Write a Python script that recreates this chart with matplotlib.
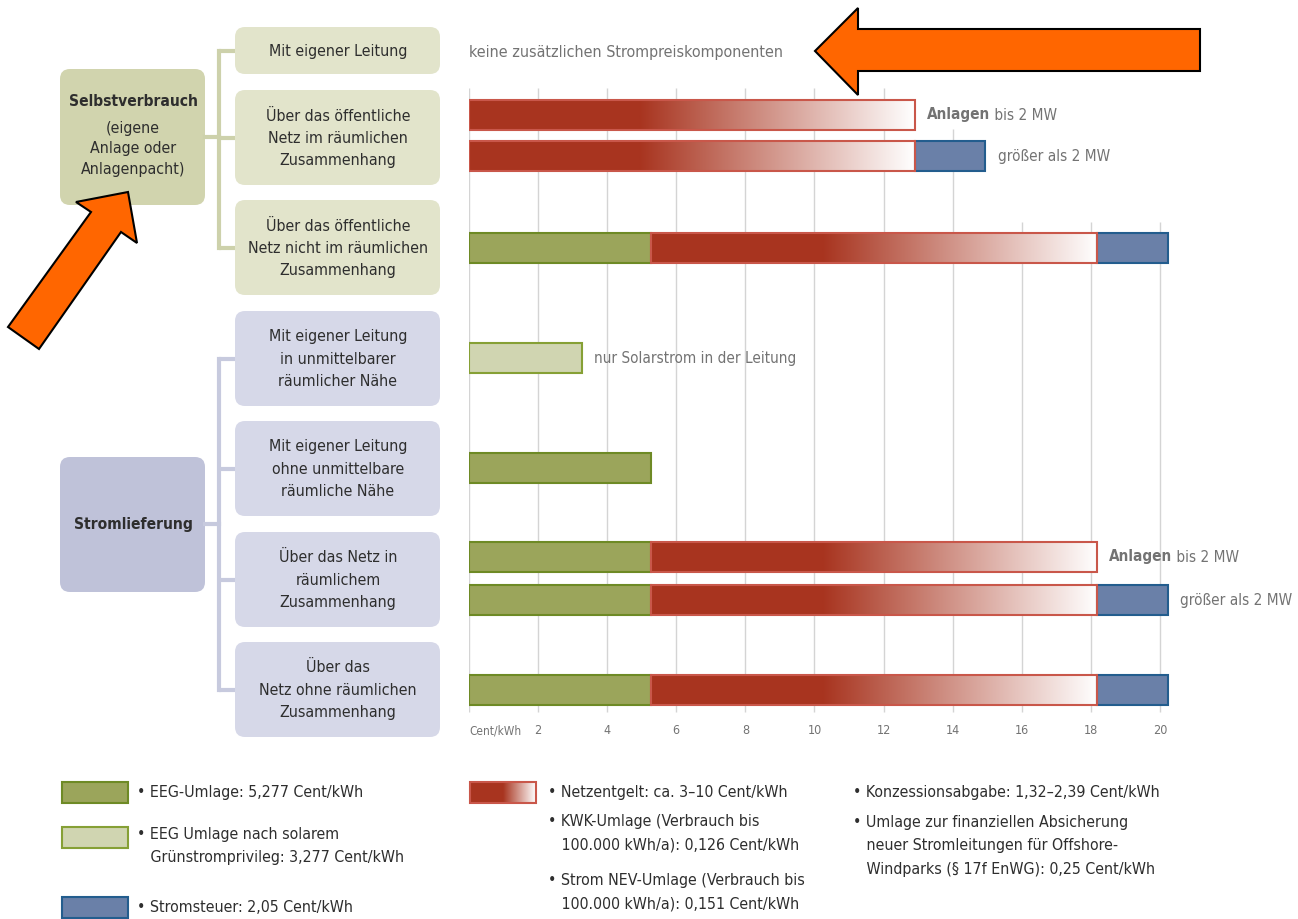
import numpy as np
import matplotlib
matplotlib.use('Agg')
from matplotlib import pyplot as plt
from matplotlib.patches import FancyBboxPatch, Polygon, Rectangle
from matplotlib.colors import LinearSegmentedColormap

plt.rcParams['font.family'] = ['DejaVu Sans']
plt.rcParams['font.stretch'] = 'condensed'

# DATA (Cent/kWh)
eeg_part = [0, 0, 5.277, 0, 5.277, 5.277, 5.277, 5.277]
solar_part = [0, 0, 0, 3.277, 0, 0, 0, 0]
netz_part = [12.9, 12.9, 12.9, 0, 0, 12.9, 12.9, 12.9]
netz_fest = 4.93          # part of the grid fee shown in solid red
steuer_part = [0, 2.05, 2.05, 0, 0, 0, 2.05, 2.05]
notes = ['Anlagen| bis 2 MW', 'größer als 2 MW', '', 'nur Solarstrom in der Leitung', '',
         'Anlagen| bis 2 MW', 'größer als 2 MW', '']
ticks = [0, 2, 4, 6, 8, 10, 12, 14, 16, 18, 20]

sv_main = 'Selbstverbrauch'
sv_sub = ['(eigene', 'Anlage oder', 'Anlagenpacht)']
sv_boxes = ['Mit eigener Leitung',
            'Über das öffentliche\nNetz im räumlichen\nZusammenhang',
            'Über das öffentliche\nNetz nicht im räumlichen\nZusammenhang']
sl_main = 'Stromlieferung'
sl_boxes = ['Mit eigener Leitung\nin unmittelbarer\nräumlicher Nähe',
            'Mit eigener Leitung\nohne unmittelbare\nräumliche Nähe',
            'Über das Netz in\nräumlichem\nZusammenhang',
            'Über das\nNetz ohne räumlichen\nZusammenhang']

legend_left = ['• EEG-Umlage: 5,277 Cent/kWh',
               '• EEG Umlage nach solarem\n   Grünstromprivileg: 3,277 Cent/kWh',
               '• Stromsteuer: 2,05 Cent/kWh']
legend_mid = ['• Netzentgelt: ca. 3–10 Cent/kWh',
              '• KWK-Umlage (Verbrauch bis\n   100.000 kWh/a): 0,126 Cent/kWh',
              '• Strom NEV-Umlage (Verbrauch bis\n   100.000 kWh/a): 0,151 Cent/kWh']
legend_right = ['• Konzessionsabgabe: 1,32–2,39 Cent/kWh',
                '• Umlage zur finanziellen Absicherung\n   neuer Stromleitungen für Offshore-\n   Windparks (§ 17f EnWG): 0,25 Cent/kWh']

# STYLE
green, green_e = '#9ba55b', '#6e8a25'
lgreen, lgreen_e = '#d0d5b1', '#86a035'
red, red_e = '#a8341f', '#c9574a'
blue, blue_e = '#6a80a8', '#235d8e'
txt = '#2e2e2e'
grey = '#737373'
sv_c, sv_sub_c, sv_line = '#d1d4ae', '#e2e4cb', '#cdd1ab'
sl_c, sl_sub_c, sl_line = '#bfc2d9', '#d6d8e8', '#c7cade'
grad_cmap = LinearSegmentedColormap.from_list('netz', [red, '#ffffff'])
fs = 11.4

fig = plt.figure(figsize=(12.98, 9.19), dpi=100)
bg = fig.add_axes([0, 0, 1, 1])
bg.set_xlim(0, 1298)
bg.set_ylim(919, 0)
bg.axis('off')

# left tree
def box(x, y, w, h, color, z=1):
    bg.add_patch(FancyBboxPatch((x, y), w, h, boxstyle='round,pad=0,rounding_size=10',
                                facecolor=color, edgecolor='none', zorder=z))

box(60, 69, 145, 136, sv_c)
bg.text(133, 101, sv_main, ha='center', va='center', fontsize=11.2, weight='bold', color=txt)
bg.text(133, 149, '\n'.join(sv_sub), ha='center', va='center', fontsize=fs, color=txt,
        linespacing=1.45)
sv_y = [(27, 47), (90, 95), (200, 95)]
for (y, h), lab in zip(sv_y, sv_boxes):
    box(235, y, 205, h, sv_sub_c)
    bg.text(338, y + h / 2 + 1, lab, ha='center', va='center', fontsize=fs, color=txt,
            linespacing=1.6)
    bg.plot([219, 235], [y + h / 2, y + h / 2], color=sv_line, lw=3, solid_capstyle='butt')
bg.plot([219, 219], [27 + 47 / 2, 200 + 95 / 2], color=sv_line, lw=3)
bg.plot([205, 219], [137, 137], color=sv_line, lw=3)

box(60, 457, 145, 135, sl_c)
bg.text(133, 524, sl_main, ha='center', va='center', fontsize=11.2, weight='bold', color=txt)
sl_y = [311, 421, 532, 642]
for y, lab in zip(sl_y, sl_boxes):
    box(235, y, 205, 95, sl_sub_c)
    bg.text(338, y + 48, lab, ha='center', va='center', fontsize=fs, color=txt,
            linespacing=1.6)
    bg.plot([219, 235], [y + 47.5, y + 47.5], color=sl_line, lw=3, solid_capstyle='butt')
bg.plot([219, 219], [311 + 47.5, 642 + 47.5], color=sl_line, lw=3)
bg.plot([205, 219], [524, 524], color=sl_line, lw=3)

# bar chart
ax = fig.add_axes([469 / 1298, 0, 760 / 1298, 1])
ax.patch.set_alpha(0)
ax.axis('off')

row_y = [115, 156, 248, 358, 468, 557, 600, 690]
bar_h = 30
grid_top = [88, 88, 88, 88, 88, 88, 88, 129, 222, 222, 222]
ax.vlines(ticks, grid_top, 712, color='#d4d4d4', lw=1, zorder=0)

for i, y in enumerate(row_y):
    left = 0
    if eeg_part[i]:
        ax.barh(y, eeg_part[i], left=left, height=bar_h, color=green, edgecolor=green_e, lw=1.5, zorder=2)
        left += eeg_part[i]
    if solar_part[i]:
        ax.barh(y, solar_part[i], left=left, height=bar_h, color=lgreen, edgecolor=lgreen_e, lw=1.5, zorder=2)
        left += solar_part[i]
    if netz_part[i]:
        ax.barh(y, netz_fest, left=left, height=bar_h, color=red, lw=0, zorder=2)
        ax.imshow(np.linspace(0, 1, 256).reshape(1, -1), cmap=grad_cmap, aspect='auto',
                  extent=(left + netz_fest, left + netz_part[i], y + bar_h / 2, y - bar_h / 2),
                  zorder=2, interpolation='bilinear')
        ax.barh(y, netz_part[i], left=left, height=bar_h, fill=False, edgecolor=red_e, lw=1.5, zorder=3)
        left += netz_part[i]
    if steuer_part[i]:
        ax.barh(y, steuer_part[i], left=left, height=bar_h, color=blue, edgecolor=blue_e, lw=1.5, zorder=2)
        left += steuer_part[i]
    if notes[i]:
        if '|' in notes[i]:
            a, b = notes[i].split('|')
            t = ax.text(left + 0.35, y, a, ha='left', va='center', fontsize=11,
                        weight='bold', color=grey)
            ax.annotate(b, xy=(1, 0.5), xycoords=t, ha='left', va='center',
                        fontsize=11, color=grey)
        else:
            ax.text(left + 0.35, y, notes[i], ha='left', va='center', fontsize=11, color=grey)

ax.text(0, 52, 'keine zusätzlichen Strompreiskomponenten', ha='left', va='center',
        fontsize=11.5, color=grey)

for tk in ticks:
    if tk == 0:
        ax.text(0, 731, 'Cent/kWh', ha='left', va='center', fontsize=8.5, color=grey)
    else:
        ax.text(tk, 731, str(tk), ha='center', va='center', fontsize=9, color=grey)

ax.set_xlim(0, 22)
ax.set_ylim(919, 0)

# legend
leg_patch = [(62, 782, green, green_e), (62, 827, lgreen, lgreen_e), (62, 897, blue, blue_e)]
for (x, y, c, e) in leg_patch:
    bg.add_patch(Rectangle((x, y), 66, 21, facecolor=c, edgecolor=e, lw=1.5, zorder=2))
bg.add_patch(Rectangle((470, 782), 33, 21, facecolor=red, edgecolor='none', zorder=2))
bg.imshow(np.linspace(0, 1, 256).reshape(1, -1), cmap=grad_cmap, aspect='auto',
          extent=(503, 536, 803, 782), zorder=2, interpolation='bilinear')
bg.add_patch(Rectangle((470, 782), 66, 21, fill=False, edgecolor=red_e, lw=1.5, zorder=3))

def legend_col(x, items, ys):
    for s, y in zip(items, ys):
        if '\n' in s:
            bg.text(x, y - 11, s, ha='left', va='top', fontsize=fs, color=txt, linespacing=1.7)
        else:
            bg.text(x, y, s, ha='left', va='center', fontsize=fs, color=txt)

legend_col(137, legend_left, [792, 838, 908])
legend_col(548, legend_mid, [792, 825, 884])
legend_col(853, legend_right, [792, 826])

# orange arrows
orange = '#ff6600'
bg.add_patch(Polygon([(815, 51), (858, 8), (858, 29), (1200, 29), (1200, 71), (858, 71), (858, 95)],
                     closed=True, facecolor=orange, edgecolor='black', lw=1.5, zorder=5))
bg.add_patch(Polygon([(128, 192), (137, 243), (121, 232), (39, 349), (8, 327), (91, 212), (76, 202)],
                     closed=True, facecolor=orange, edgecolor='black', lw=1.5, zorder=5))

fig.savefig('out.png', dpi=100)
